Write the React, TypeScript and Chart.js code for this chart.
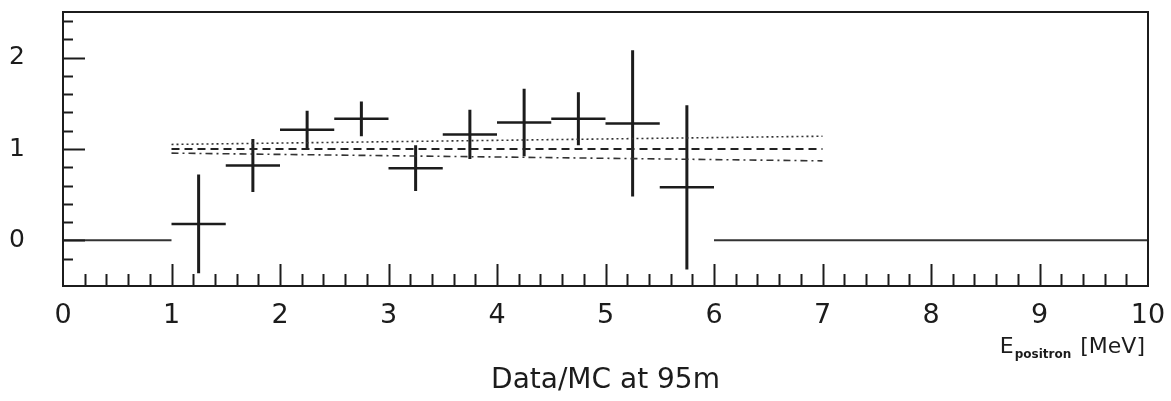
import React, { useEffect, useRef } from "react";
import { Chart, registerables } from "chart.js";

Chart.register(...registerables);

// ---- data (E_positron in MeV, Data/MC ratio) ----
const binWidth = 0.5;
const binCenters = [0.25, 0.75, 1.25, 1.75, 2.25, 2.75, 3.25, 3.75, 4.25, 4.75, 5.25, 5.75, 6.25, 6.75, 7.25, 7.75, 8.25, 8.75, 9.25, 9.75];
const ratioValues = [0, 0, 0.18, 0.82, 1.21, 1.33, 0.79, 1.16, 1.29, 1.33, 1.28, 0.58, 0, 0, 0, 0, 0, 0, 0, 0];
const ratioErrors = [0, 0, 0.54, 0.29, 0.21, 0.19, 0.25, 0.27, 0.37, 0.29, 0.8, 0.9, 0, 0, 0, 0, 0, 0, 0, 0];

const fitRange = [1, 7];
const fitUpper = [1.05, 1.14];
const fitCentral = [1.0, 1.0];
const fitLower = [0.955, 0.87];

const xTickLabels = [0, 1, 2, 3, 4, 5, 6, 7, 8, 9, 10];
const yTickLabels = [0, 1, 2];
const xRange = [0, 10];
const yRange = [-0.5, 2.5];

const titleText = "Data/MC at 95m";
const xLabelMain = "E";
const xLabelSub = "positron";
const xLabelUnit = "[MeV]";

const FONT = "'DejaVu Sans', 'Liberation Sans', sans-serif";
const INK = "#1c1c1c";

type P = { x: number; y: number | null };

function buildSeries() {
  const hData: P[] = [];
  const vData: P[] = [];
  const zData: P[] = [];
  binCenters.forEach((c, i) => {
    const v = ratioValues[i];
    const e = ratioErrors[i];
    const lo = c - binWidth / 2;
    const hi = c + binWidth / 2;
    if (e > 0) {
      hData.push({ x: lo, y: v }, { x: hi, y: v }, { x: c, y: null });
      vData.push({ x: c, y: v - e }, { x: c, y: v + e }, { x: c, y: null });
    } else {
      zData.push({ x: lo, y: v }, { x: hi, y: v }, { x: c, y: null });
    }
  });
  return { hData, vData, zData };
}

const framePlugin = {
  id: "paperFrame",
  afterDraw(chart: any) {
    const ctx = chart.ctx;
    const { left, right, top, bottom } = chart.chartArea;
    const xs = chart.scales.x;
    const ys = chart.scales.y;
    ctx.save();
    ctx.strokeStyle = INK;
    ctx.lineWidth = 2;
    ctx.strokeRect(left, top, right - left, bottom - top);

    // y ticks (inward)
    ctx.lineWidth = 2;
    for (let k = Math.round(yRange[0] * 5) + 1; k < Math.round(yRange[1] * 5); k++) {
      const v = k / 5;
      const major = yTickLabels.some((t) => Math.abs(t - v) < 1e-6);
      const py = Math.round(ys.getPixelForValue(v)) + 0.5;
      ctx.beginPath();
      ctx.moveTo(left, py);
      ctx.lineTo(left + (major ? 22 : 10), py);
      ctx.stroke();
    }
    // x ticks (inward from bottom)
    for (let k = Math.round(xRange[0] * 5) + 1; k < Math.round(xRange[1] * 5); k++) {
      const v = k / 5;
      const major = xTickLabels.some((t) => Math.abs(t - v) < 1e-6);
      const px = Math.round(xs.getPixelForValue(v)) + 0.5;
      ctx.beginPath();
      ctx.moveTo(px, bottom);
      ctx.lineTo(px, bottom - (major ? 22 : 12));
      ctx.stroke();
    }

    // texts
    ctx.fillStyle = INK;
    ctx.textBaseline = "alphabetic";
    ctx.textAlign = "center";
    ctx.font = `28px ${FONT}`;
    ctx.fillText(titleText, (left + right) / 2, 388);

    ctx.textAlign = "left";
    ctx.font = `22px ${FONT}`;
    const wUnit = ctx.measureText(xLabelUnit).width;
    const wE = ctx.measureText(xLabelMain).width;
    ctx.font = `bold 12px ${FONT}`;
    const wSub = ctx.measureText(xLabelSub).width;
    const unitX = right - 3 - wUnit;
    const subX = unitX - 9 - wSub;
    const eX = subX - 1 - wE;
    ctx.font = `22px ${FONT}`;
    ctx.fillText(xLabelMain, eX, 353);
    ctx.fillText(xLabelUnit, unitX, 353);
    ctx.font = `bold 12px ${FONT}`;
    ctx.fillText(xLabelSub, subX, 358);
    ctx.restore();
  },
};

export default function App() {
  const ref = useRef<HTMLCanvasElement | null>(null);

  useEffect(() => {
    if (!ref.current) return;
    const { hData, vData, zData } = buildSeries();
    const line = (pts: P[], width: number, color: string, dash: number[] = []) => ({
      data: pts,
      borderColor: color,
      borderWidth: width,
      borderDash: dash,
      borderCapStyle: "butt",
      pointRadius: 0,
      pointHoverRadius: 0,
      fill: false,
      tension: 0,
      spanGaps: false,
    });
    const fitPts = (vals: number[]) => fitRange.map((x, i) => ({ x, y: vals[i] }));

    const chart = new Chart(ref.current, {
      type: "line",
      data: {
        datasets: [
          line(zData, 2, "#333333") as any,
          line(fitPts(fitUpper), 1.6, "#333333", [2, 3]) as any,
          line(fitPts(fitCentral), 2, "#222222", [8, 5]) as any,
          line(fitPts(fitLower), 1.6, "#333333", [7, 4, 2, 4]) as any,
          line(hData, 2.5, INK) as any,
          line(vData, 3, INK) as any,
        ],
      },
      options: {
        animation: false,
        responsive: true,
        maintainAspectRatio: false,
        parsing: { xAxisKey: "x", yAxisKey: "y" },
        layout: { padding: { top: 12, right: 23, left: 0, bottom: 0 } },
        plugins: { legend: { display: false }, tooltip: { enabled: false }, title: { display: false } },
        events: [],
        scales: {
          x: {
            type: "linear",
            position: "bottom",
            min: xRange[0],
            max: xRange[1],
            grid: { display: false },
            border: { display: false },
            ticks: {
              font: { family: FONT, size: 27 },
              color: INK,
              padding: 6,
              maxRotation: 0,
              autoSkip: false,
            },
            afterBuildTicks: (s: any) => {
              s.ticks = xTickLabels.map((v) => ({ value: v }));
            },
            afterFit: (s: any) => {
              s.height = 115;
              s.paddingLeft = 0;
              s.paddingRight = 0;
              s.paddingTop = 0;
              s.paddingBottom = 0;
            },
          },
          y: {
            type: "linear",
            position: "left",
            min: yRange[0],
            max: yRange[1],
            grid: { display: false },
            border: { display: false },
            ticks: {
              font: { family: FONT, size: 25 },
              color: INK,
              padding: 30,
              autoSkip: false,
            },
            afterBuildTicks: (s: any) => {
              s.ticks = yTickLabels.map((v) => ({ value: v }));
            },
            afterFit: (s: any) => {
              s.width = 63;
              s.paddingLeft = 0;
              s.paddingRight = 0;
              s.paddingTop = 0;
              s.paddingBottom = 0;
            },
          },
        },
      } as any,
      plugins: [framePlugin],
    });
    return () => chart.destroy();
  }, []);

  return (
    <div style={{ position: "fixed", left: 0, top: 0, width: 1171, height: 401, background: "#fff" }}>
      <canvas ref={ref} />
    </div>
  );
}
